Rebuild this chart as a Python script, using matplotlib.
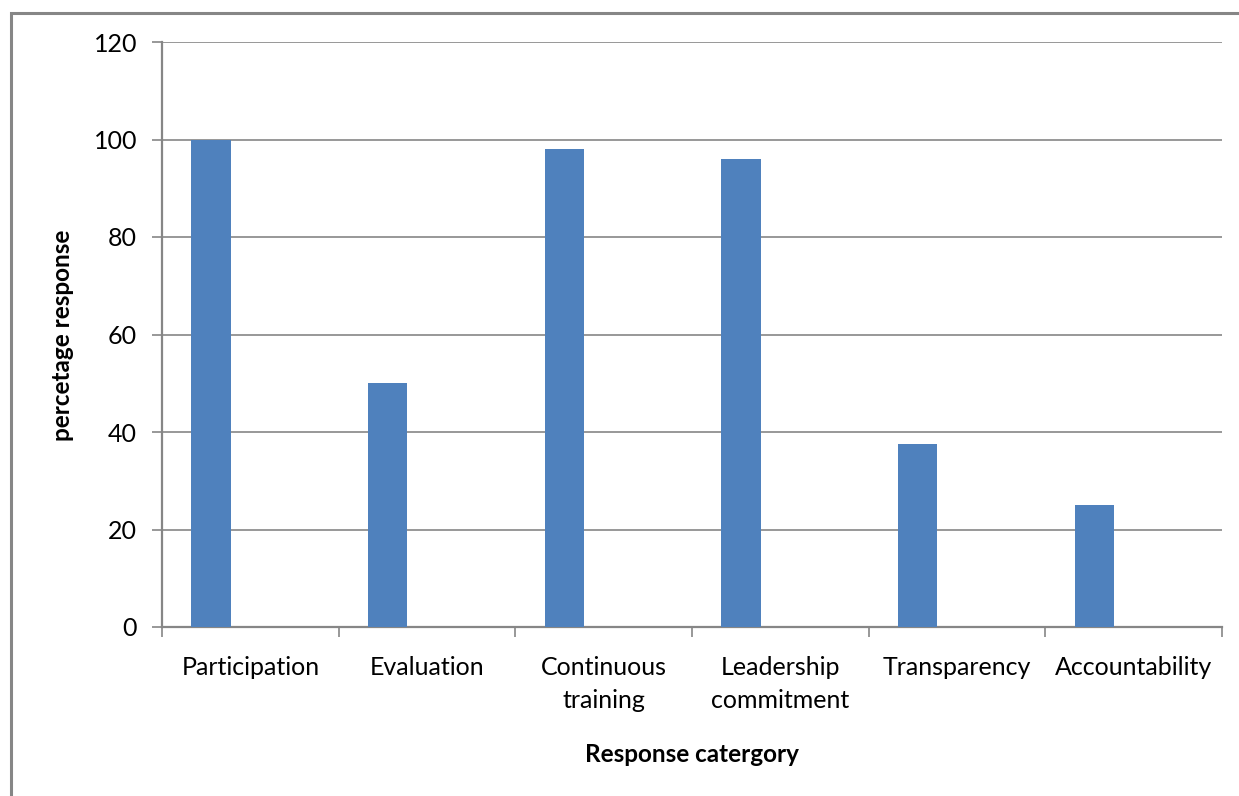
import matplotlib.pyplot as plt
from matplotlib.patches import Rectangle
import numpy as np

BAR_COLOR = "#4F81BD"
GRID_COLOR = "#868686"

categories = ["Participation", "Evaluation", "Continuous\ntraining",
              "Leadership\ncommitment", "Transparency", "Accountability"]
responses = [100, 50, 98, 96, 37.5, 25]
y_ticks = [0, 20, 40, 60, 80, 100, 120]

plt.rcParams["font.family"] = ["Lato", "DejaVu Sans"]

fig = plt.figure(figsize=(12.39, 7.96), dpi=100)
ax = fig.add_axes([162 / 1239, 1 - 627 / 796, (1222 - 162) / 1239, (627 - 42) / 796])

# Excel clustered layout: 3 slots + 150% gap, only the first slot holds data
width = 1 / 4.5
x = np.arange(len(categories))
ax.bar(x - width, responses, width=width, color=BAR_COLOR, zorder=3)

ax.set_xlim(-0.5, len(categories) - 0.5)
ax.set_ylim(0, 120)
ax.set_yticks(y_ticks)
ax.set_yticklabels([str(v) for v in y_ticks], fontsize=18)
ax.grid(axis="y", color=GRID_COLOR, linewidth=1.2, zorder=0)

ax.set_xticks(np.arange(-0.5, len(categories), 1.0))
ax.set_xticklabels([])
ax.set_xticks(x, minor=True)
ax.set_xticklabels(categories, minor=True, fontsize=18, linespacing=1.5)
ax.tick_params(axis="x", which="minor", length=0, pad=21)
ax.tick_params(axis="x", which="major", length=7, width=1.2, color=GRID_COLOR, direction="out")
ax.tick_params(axis="y", length=7, width=1.2, color=GRID_COLOR, direction="out", pad=11)

for side in ["top", "right"]:
    ax.spines[side].set_visible(False)
for side in ["left", "bottom"]:
    ax.spines[side].set_color(GRID_COLOR)
    ax.spines[side].set_linewidth(1.6)

fig.text(692 / 1239, 1 - 754 / 796, "Response catergory", fontsize=17.5, fontweight="bold",
         ha="center", va="center")
fig.text(63 / 1239, 1 - 335 / 796, "percetage response", fontsize=17.5, fontweight="bold",
         ha="center", va="center", rotation=90)

# chart frame, open at right and bottom like the cropped original
fig.add_artist(Rectangle((11 / 1239, -0.1), 1.2, 1 - 13 / 796 + 0.1, transform=fig.transFigure,
                         fill=False, edgecolor=GRID_COLOR, linewidth=2.2))

fig.savefig("out.png", dpi=100)
